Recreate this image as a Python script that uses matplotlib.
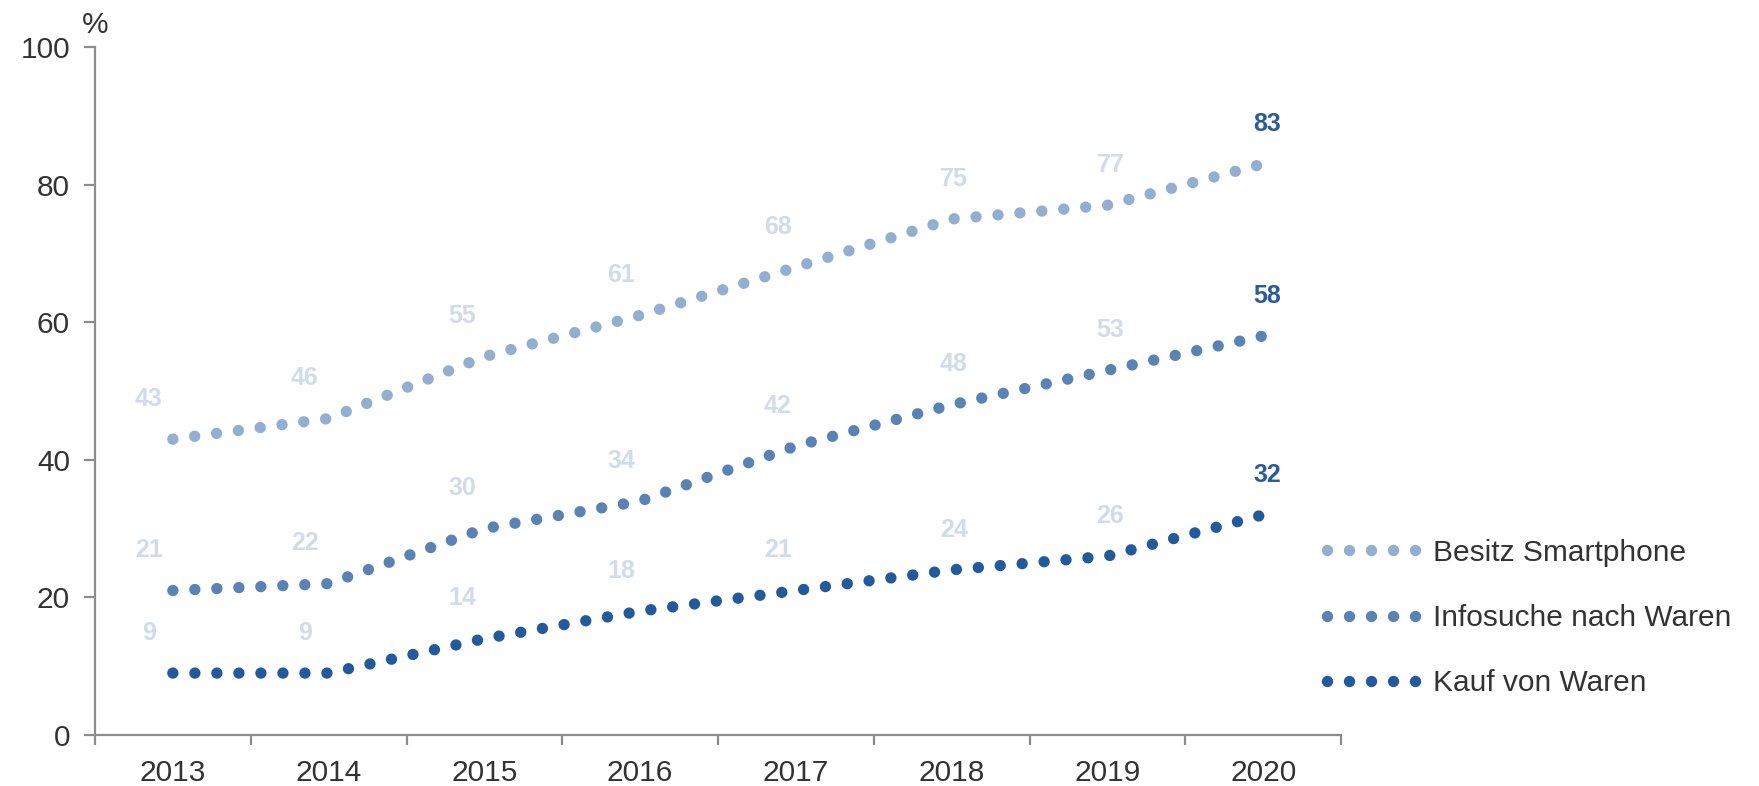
import matplotlib.pyplot as plt
from matplotlib.lines import Line2D

years = ['2013', '2014', '2015', '2016', '2017', '2018', '2019', '2020']
smartphone = [43, 46, 55, 61, 68, 75, 77, 83]
infosuche = [21, 22, 30, 34, 42, 48, 53, 58]
kauf = [9, 9, 14, 18, 21, 24, 26, 32]

series_names = ['Besitz Smartphone', 'Infosuche nach Waren', 'Kauf von Waren']
series_colors = ['#92aed0', '#5b82b5', '#235a9c']

# horizontal shift of the value labels (pixels), per year
label_dx = [-24, -24, -22, -19, -18, 2, 3, 4]

plt.rcParams['font.family'] = ['Liberation Sans', 'DejaVu Sans']

W, H = 1759, 786
fig = plt.figure(figsize=(W / 100, H / 100), dpi=100)
ax = fig.add_axes([95 / W, 1 - 735 / H, (1341 - 95) / W, (735 - 47) / H])

x = list(range(len(years)))
dot_lw = 8.2  # round dots, ~11 px
dots = (0, (0.001, 22 / (dot_lw * 100 / 72)))
for vals, color in zip([smartphone, infosuche, kauf], series_colors):
    ax.plot(x, vals, color=color, lw=dot_lw, linestyle=dots,
            dash_capstyle='round', clip_on=False)
    for i, v in enumerate(vals):
        last = i == len(vals) - 1
        ax.annotate(str(v), (i, v), xytext=(label_dx[i] * 0.72, 29),
                    textcoords='offset points', ha='center', va='center',
                    fontsize=18, fontweight='bold',
                    color='#2a5b9b' if last else '#d0dcea')

axis_grey = '#8c8c8c'
text_col = '#333333'

ax.set_xlim(-0.5, len(years) - 0.5)
ax.set_ylim(0, 100)
ax.set_yticks(range(0, 101, 20))
ax.set_xticks(x)
ax.set_xticklabels(years)
ax.set_xticks([i - 0.5 for i in range(len(years) + 1)], minor=True)

for side in ['top', 'right']:
    ax.spines[side].set_visible(False)
for side in ['left', 'bottom']:
    ax.spines[side].set_color(axis_grey)
    ax.spines[side].set_linewidth(1.6)

ax.tick_params(axis='y', length=8, width=1.6, color=axis_grey,
               labelsize=21.5, labelcolor=text_col, pad=10)
ax.tick_params(axis='x', which='major', length=0, labelsize=21.5,
               labelcolor=text_col, pad=17)
ax.tick_params(axis='x', which='minor', length=7, width=1.6, color=axis_grey)

fig.text(95 / W, 1 - 25 / H, '%', ha='center', va='center',
         fontsize=21.5, color=text_col)

handles = [Line2D([0], [0], color=c, lw=dot_lw, linestyle=dots,
                  dash_capstyle='round') for c in series_colors]
fig.legend(handles, series_names, loc='center left',
           bbox_to_anchor=(1327 / W, 1 - 618 / H), frameon=False,
           borderpad=0, borderaxespad=0, handlelength=2.98,
           handletextpad=0.58, labelspacing=1.25, fontsize=21.5,
           labelcolor=text_col)

fig.savefig('out.png', dpi=100)
